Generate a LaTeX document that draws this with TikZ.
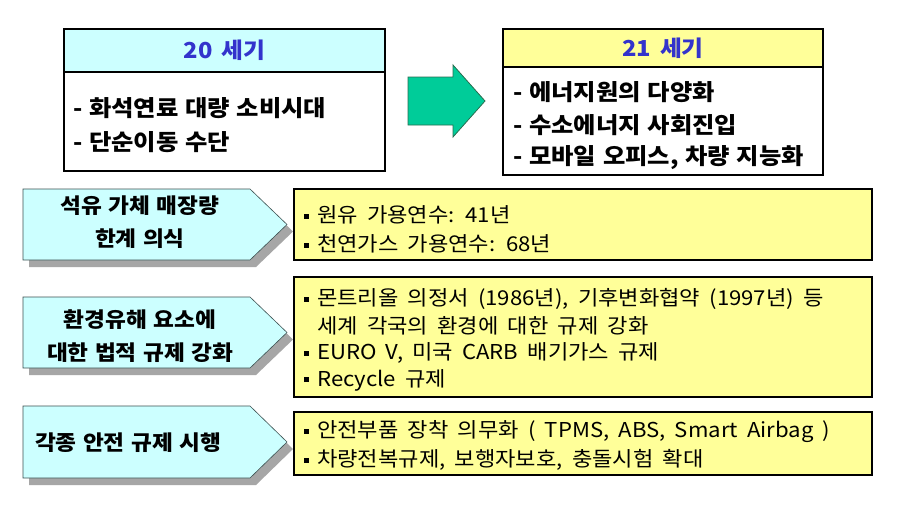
\documentclass[tikz,border=0pt]{standalone}
\usepackage{fontspec}
\setmainfont{Noto Sans CJK KR}[FakeStretch=1.08]
\definecolor{cyanfill}{RGB}{204,255,255}
\definecolor{yelfill}{RGB}{255,255,153}
\definecolor{titleblue}{RGB}{51,51,204}
\definecolor{arrowgreen}{RGB}{0,204,153}
\definecolor{arrowedge}{RGB}{40,110,80}
\definecolor{shadowgray}{RGB}{166,166,166}
\definecolor{pentedge}{RGB}{60,80,80}
\newcommand\sqb{\rule[4pt]{5pt}{5pt}\hspace{8pt}}
\newcommand\setsp[1]{\spaceskip=#1em\relax}
\begin{document}
\begin{tikzpicture}[x=1pt,y=-1pt,
  box/.style={draw=black, line width=1.1pt},
  ttl/.style={font=\fontsize{22}{24}\selectfont\bfseries\setsp{0.4}, text=titleblue, inner sep=0},
  big/.style={font=\fontsize{22.5}{25}\selectfont\bfseries\setsp{0.3}, anchor=west, inner sep=0},
  penttext/.style={font=\fontsize{21}{33}\selectfont\bfseries\setsp{0.3}, align=center, inner sep=0},
  item/.style={font=\fontsize{20.5}{23}\selectfont\setsp{0.45}, anchor=west, inner sep=0},
  pentshape/.style={fill=cyanfill, draw=pentedge, line width=0.6pt},
  shadowshape/.style={fill=shadowgray}]
\useasboundingbox[fill=white] (0,0) rectangle (914,515);

% 20 century box
\fill[cyanfill] (64,29) rectangle (385,72);
\draw[box] (64,29) rectangle (385,171);
\draw[box] (64,72) -- (385,72);
\node[ttl] (t20) at (224.5,50) {20 세기};
\node[big] (a1) at (73,108) {- 화석연료 대량 소비시대};
\node[big] (a2) at (73,142) {- 단순이동 수단};

% arrow
\draw[fill=arrowgreen, draw=arrowedge, line width=0.8pt]
  (408,77) -- (453,77) -- (453,65) -- (485,101) -- (453,137) -- (453,125) -- (408,125) -- cycle;

% 21 century box
\fill[yelfill] (503,29) rectangle (823,67);
\draw[box] (503,29) rectangle (823,175);
\draw[box] (503,67) -- (823,67);
\node[ttl] (t21) at (663,48) {21 세기};
\node[big] (b1) at (513,92) {- 에너지원의 다양화};
\node[big] (b2) at (513,125) {- 수소에너지 사회진입};
\node[big] (b3) at (513,158) {- 모바일 오피스, 차량 지능화};

% pentagons
\foreach \ya/\yb in {189/260, 297/368, 406/478}{
  \pgfmathsetmacro\ym{(\ya+\yb)/2}
  \fill[shadowshape] (29,\ya+7) -- (256,\ya+7) -- (293,\ym+7) -- (256,\yb+7) -- (29,\yb+7) -- cycle;
  \draw[pentshape] (23,\ya) -- (250,\ya) -- (287,\ym) -- (250,\yb) -- (23,\yb) -- cycle;
}
\node[penttext] (p1) at (140,222) {석유 가체 매장량\\한계 의식};
\node[penttext] (p2) at (140,336) {환경유해 요소에\\대한 법적 규제 강화};
\node[penttext] (p3) at (128,443) {각종 안전 규제 시행};

% yellow boxes
\draw[box, fill=yelfill] (294,189) rectangle (872,260);
\draw[box, fill=yelfill] (294,277) rectangle (872,397);
\draw[box, fill=yelfill] (294,412) rectangle (872,475);

\node[item] (c1) at (304,215) {\sqb 원유 가용연수: 41년};
\node[item] (c2) at (304,244) {\sqb 천연가스 가용연수: 68년};

\node[item] (d1) at (304,299) {\sqb 몬트리올 의정서 (1986년), 기후변화협약 (1997년) 등};
\node[item] (d2) at (317,326) {세계 각국의 환경에 대한 규제 강화};
\node[item] (d3) at (304,353) {\sqb EURO V, 미국 CARB 배기가스 규제};
\node[item] (d4) at (304,380) {\sqb Recycle 규제};

\node[item] (e1) at (304,432) {\sqb 안전부품 장착 의무화 ( TPMS, ABS, Smart Airbag )};
\node[item] (e2) at (304,460) {\sqb 차량전복규제, 보행자보호, 충돌시험 확대};
\end{tikzpicture}
\end{document}
